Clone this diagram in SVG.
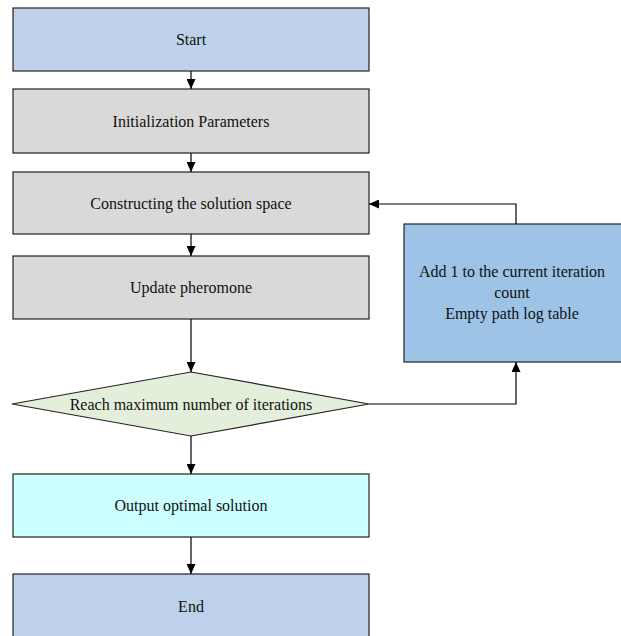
<svg xmlns="http://www.w3.org/2000/svg" width="621" height="636" viewBox="0 0 621 636">
<style>
.box{stroke:#222;stroke-width:1.2}
.t{font-family:"Liberation Serif","Times New Roman",serif;font-size:16px;fill:#111;text-anchor:middle}
.c{fill:none;stroke:#000;stroke-width:1.2}
</style>
<defs>
<marker id="ah" viewBox="0 0 10 10" refX="10" refY="5" markerWidth="10" markerHeight="9" markerUnits="userSpaceOnUse" orient="auto" preserveAspectRatio="none">
<path d="M0,0 L10,5 L0,10 z" fill="#000"/>
</marker>
</defs>
<rect width="621" height="636" fill="#fff"/>
<g id="start"><rect class="box" x="13" y="8" width="356" height="63" fill="#BDD1EA"/><text class="t" x="191" y="45">Start</text></g>
<g id="init"><rect class="box" x="13" y="89" width="356" height="64" fill="#D9D9D9"/><text class="t" x="191" y="127">Initialization Parameters</text></g>
<g id="construct"><rect class="box" x="13" y="172" width="356" height="62" fill="#D9D9D9"/><text class="t" x="191" y="209">Constructing the solution space</text></g>
<g id="update"><rect class="box" x="13" y="256" width="356" height="63" fill="#D9D9D9"/><text class="t" x="191" y="293">Update pheromone</text></g>
<g id="decision"><polygon class="box" points="191,372 369,404 191,436 12,404" fill="#E3EFDB"/><text class="t" x="191" y="410">Reach maximum number of iterations</text></g>
<g id="increment"><rect class="box" x="404" y="224" width="230" height="138" fill="#9DC3E6"/><text class="t" x="512" y="277">Add 1 to the current iteration</text><text class="t" x="512" y="298">count</text><text class="t" x="512" y="319">Empty path log table</text></g>
<g id="output"><rect class="box" x="13" y="474" width="356" height="63" fill="#CCFFFF"/><text class="t" x="191" y="511">Output optimal solution</text></g>
<g id="end"><rect class="box" x="13" y="574" width="356" height="72" fill="#BDD1EA"/><text class="t" x="191" y="612">End</text></g>
<g id="connectors">
<line class="c" x1="191" y1="71" x2="191" y2="89" marker-end="url(#ah)"/>
<line class="c" x1="191" y1="153" x2="191" y2="172" marker-end="url(#ah)"/>
<line class="c" x1="191" y1="234" x2="191" y2="256" marker-end="url(#ah)"/>
<line class="c" x1="191" y1="319" x2="191" y2="372" marker-end="url(#ah)"/>
<line class="c" x1="191" y1="436" x2="191" y2="474" marker-end="url(#ah)"/>
<line class="c" x1="191" y1="537" x2="191" y2="574" marker-end="url(#ah)"/>
<polyline class="c" points="369,404 516,404 516,362" marker-end="url(#ah)"/>
<polyline class="c" points="516,224 516,204 369,204" marker-end="url(#ah)"/>
</g>
</svg>
